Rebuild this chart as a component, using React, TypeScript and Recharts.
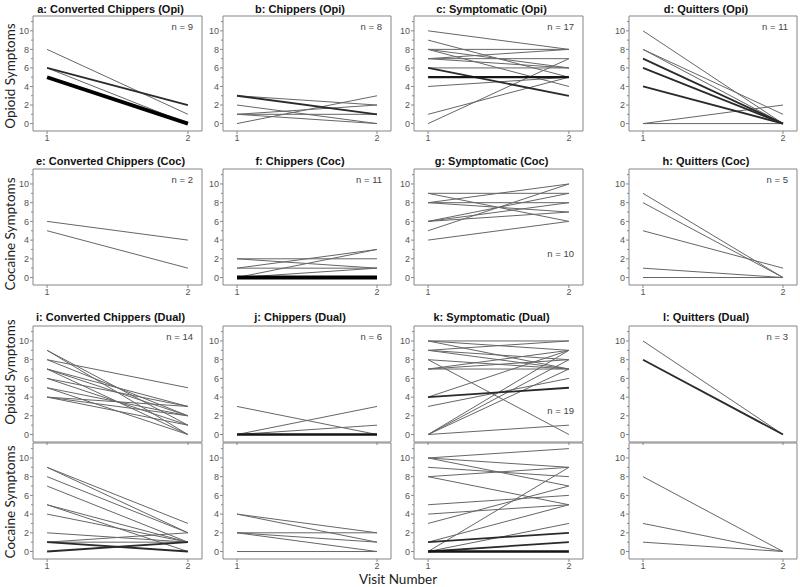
import { Line, LineChart, ReferenceArea, XAxis, YAxis } from 'recharts';

type Pair = [number, number];

// symptom count at visit 1 -> visit 2, one entry per subject
const opiConverted: Pair[] = [[8, 1], [6, 2], [6, 2], [6, 0], [5, 0], [5, 0], [5, 0], [5, 0], [5, 0]];
const opiChippers: Pair[] = [[3, 1], [3, 1], [3, 2], [2, 0], [1, 2], [1, 0], [0, 3], [1, 1]];
const opiSymptomatic: Pair[] = [
  [10, 8], [9, 5], [8, 8], [8, 6], [8, 4], [7, 8], [7, 7], [6, 3], [6, 3],
  [6, 6], [5, 5], [5, 5], [5, 5], [4, 5], [1, 5], [0, 7], [7, 6],
];
const opiQuitters: Pair[] = [[10, 0], [8, 1], [8, 0], [7, 0], [7, 0], [6, 0], [6, 0], [4, 0], [4, 0], [0, 2], [0, 0]];

const cocConverted: Pair[] = [[6, 4], [5, 1]];
const cocChippers: Pair[] = [[2, 1], [2, 2], [1, 1], [1, 3], [0, 3], [0, 1], [0, 0], [0, 0], [0, 0], [0, 0], [0, 0]];
const cocSymptomatic: Pair[] = [[9, 9], [9, 6], [8, 10], [8, 8], [8, 7], [6, 9], [6, 8], [5, 10], [4, 6], [6, 7]];
const cocQuitters: Pair[] = [[9, 0], [8, 0], [5, 1], [1, 0], [0, 0]];

const dualOpiConverted: Pair[] = [
  [9, 0], [9, 1], [8, 5], [8, 2], [7, 3], [7, 2], [7, 0], [6, 3], [6, 1], [5, 2], [5, 0], [4, 3], [4, 1], [4, 2],
];
const dualOpiChippers: Pair[] = [[3, 0], [0, 3], [0, 1], [0, 0], [0, 0], [0, 0]];
const dualOpiSymptomatic: Pair[] = [
  [10, 10], [10, 7], [9, 10], [9, 8], [8, 0], [8, 7], [7, 9], [7, 7], [7, 8], [4, 9],
  [4, 5], [4, 5], [3, 6], [0, 9], [0, 8], [0, 7], [0, 1], [10, 9], [9, 7],
];
const dualOpiQuitters: Pair[] = [[10, 0], [8, 0], [8, 0]];

const dualCocConverted: Pair[] = [
  [9, 3], [9, 2], [8, 2], [7, 1], [5, 1], [5, 0], [4, 1], [2, 1], [1, 1], [1, 0], [1, 0], [0, 1], [0, 1], [1, 2],
];
const dualCocChippers: Pair[] = [[4, 2], [4, 1], [2, 2], [2, 1], [2, 0], [0, 0]];
const dualCocSymptomatic: Pair[] = [
  [10, 11], [10, 9], [10, 7], [9, 8], [8, 9], [8, 5], [5, 6], [4, 5], [3, 7], [1, 5],
  [1, 2], [1, 2], [0, 9], [0, 3], [0, 1], [0, 1], [0, 0], [0, 0], [0, 0],
];
const dualCocQuitters: Pair[] = [[8, 0], [3, 0], [1, 0]];

const panelData: Pair[][] = [
  opiConverted, opiChippers, opiSymptomatic, opiQuitters,
  cocConverted, cocChippers, cocSymptomatic, cocQuitters,
  dualOpiConverted, dualOpiChippers, dualOpiSymptomatic, dualOpiQuitters,
  dualCocConverted, dualCocChippers, dualCocSymptomatic, dualCocQuitters,
];

const titles = [
  'a: Converted Chippers (Opi)', 'b: Chippers (Opi)', 'c: Symptomatic (Opi)', 'd: Quitters (Opi)',
  'e: Converted Chippers (Coc)', 'f: Chippers (Coc)', 'g: Symptomatic (Coc)', 'h: Quitters (Coc)',
  'i: Converted Chippers (Dual)', 'j: Chippers (Dual)', 'k: Symptomatic (Dual)', 'l: Quitters (Dual)',
];
const nLabels = [
  'n = 9', 'n = 8', 'n = 17', 'n = 11',
  'n = 2', 'n = 11', 'n = 10', 'n = 5',
  'n = 14', 'n = 6', 'n = 19', 'n = 3',
];
const lowLabelPanels = [6, 10];
const rowLabels = ['Opioid Symptoms', 'Cocaine Symptoms', 'Opioid Symptoms', 'Cocaine Symptoms'];
const visits = [1, 2];
const yTicks = [0, 1, 2, 3, 4, 5, 6, 7, 8, 9, 10, 11];

// layout
const COL_LEFT = [33, 223, 414, 629];
const COL_W = [169, 168, 169, 168];
const ROW_TOP = [16, 169, 326, 443];
const ROW_H = [115, 116, 116, 116];
const TITLE_GAP = [1, 2, 3];
const ROW_LABEL_Y = [76, 234, 372, 502];
const YW = 28;
const MT = 2;
const MR = 2;
const XH = 16;
const X_DOMAIN: [number, number] = [0.9, 2.1];
const Y_DOMAIN: [number, number] = [-0.8, 11.6];

const tickFont = '"Liberation Sans", Arial, sans-serif';

function groupPairs(pairs: Pair[]) {
  const m = new Map<string, { v1: number; v2: number; count: number }>();
  pairs.forEach(([v1, v2]) => {
    const key = `${v1}-${v2}`;
    if (!m.has(key)) m.set(key, { v1, v2, count: 0 });
    m.get(key)!.count += 1;
  });
  return Array.from(m.values()).sort((a, b) => a.count - b.count);
}

function lineStyle(count: number) {
  if (count === 1) return { stroke: '#666', width: 1 };
  if (count === 2) return { stroke: '#2a2a2a', width: 1.8 };
  if (count === 3) return { stroke: '#151515', width: 2.3 };
  return { stroke: '#000', width: Math.min(4, 1 + 0.7 * (count - 1)) };
}

function YTick(props: any) {
  const { x, y, payload } = props;
  const v = payload.value as number;
  const major = v % 2 === 0;
  return (
    <g>
      <line x1={x - (major ? 3 : 2)} x2={x} y1={y} y2={y} stroke="#888" />
      {major && (
        <text x={x - 4} y={y} dy="0.35em" textAnchor="end" fontSize={9} fill="#555" fontFamily={tickFont}>
          {v}
        </text>
      )}
    </g>
  );
}

function Panel({ index }: { index: number }) {
  const row = Math.floor(index / 4);
  const col = index % 4;
  const groups = groupPairs(panelData[index]);
  const data = visits.map((visit, vi) => {
    const d: Record<string, number> = { visit };
    groups.forEach((g, k) => {
      d[`l${k}`] = vi === 0 ? g.v1 : g.v2;
    });
    return d;
  });
  const w = COL_W[col];
  const h = ROW_H[row];
  return (
    <div style={{ position: 'absolute', left: COL_LEFT[col] - YW, top: ROW_TOP[row] - MT }}>
      <LineChart width={YW + w + MR} height={MT + h + XH} data={data} margin={{ top: MT, right: MR, bottom: 0, left: 0 }}>
        <XAxis
          type="number"
          dataKey="visit"
          domain={X_DOMAIN}
          ticks={visits}
          interval={0}
          axisLine={false}
          tickSize={3}
          tickMargin={1}
          height={XH}
          tickLine={{ stroke: '#888' }}
          tick={{ fontSize: 9, fill: '#555', fontFamily: tickFont }}
          tickFormatter={(v) => (row === 2 ? '' : String(v))}
        />
        <YAxis
          type="number"
          domain={Y_DOMAIN}
          ticks={yTicks}
          interval={0}
          width={YW}
          axisLine={false}
          tickLine={false}
          tickSize={0}
          tickMargin={0}
          tick={<YTick />}
        />
        <ReferenceArea x1={X_DOMAIN[0]} x2={X_DOMAIN[1]} y1={Y_DOMAIN[0]} y2={Y_DOMAIN[1]} fill="none" stroke="#858585" strokeWidth={1} />
        {groups.map((g, k) => {
          const s = lineStyle(g.count);
          return (
            <Line
              key={k}
              type="linear"
              dataKey={`l${k}`}
              stroke={s.stroke}
              strokeWidth={s.width}
              dot={false}
              activeDot={false}
              isAnimationActive={false}
            />
          );
        })}
      </LineChart>
    </div>
  );
}

export default function App() {
  return (
    <div style={{ position: 'absolute', left: 0, top: 0, width: 800, height: 587, background: '#fff', overflow: 'hidden' }}>
      {panelData.map((_, i) => (
        <Panel key={i} index={i} />
      ))}
      {titles.map((t, i) => {
        const row = Math.floor(i / 4);
        const col = i % 4;
        return (
          <div
            key={t}
            style={{
              position: 'absolute',
              left: COL_LEFT[col] + COL_W[col] / 2 - 7,
              top: ROW_TOP[row] - TITLE_GAP[row],
              transform: 'translate(-50%, -100%)',
              fontFamily: tickFont,
              fontWeight: 'bold',
              fontSize: 11,
              color: '#111',
              whiteSpace: 'nowrap',
              lineHeight: 1.1,
            }}
          >
            {t}
          </div>
        );
      })}
      {nLabels.map((t, i) => {
        const row = Math.floor(i / 4);
        const col = i % 4;
        const low = lowLabelPanels.includes(i);
        return (
          <div
            key={`n${i}`}
            style={{
              position: 'absolute',
              left: COL_LEFT[col] + COL_W[col] - 9,
              top: ROW_TOP[row] + (low ? 85 : 11),
              transform: 'translate(-100%, -50%)',
              fontFamily: tickFont,
              fontSize: 9.5,
              color: '#444',
              whiteSpace: 'nowrap',
              lineHeight: 1,
            }}
          >
            {t}
          </div>
        );
      })}
      {rowLabels.map((t, i) => (
        <div
          key={`r${i}`}
          style={{
            position: 'absolute',
            left: 11,
            top: ROW_LABEL_Y[i],
            transform: 'translate(-50%, -50%) rotate(-90deg)',
            fontFamily: 'Lato, "Open Sans", sans-serif',
            fontSize: 13.5,
            color: '#222',
            whiteSpace: 'nowrap',
            lineHeight: 1,
          }}
        >
          {t}
        </div>
      ))}
      <div
        style={{
          position: 'absolute',
          left: 398,
          top: 580,
          transform: 'translate(-50%, -50%)',
          fontFamily: 'Lato, "Open Sans", sans-serif',
          fontSize: 13.5,
          color: '#222',
          whiteSpace: 'nowrap',
          lineHeight: 1,
        }}
      >
        Visit Number
      </div>
    </div>
  );
}
